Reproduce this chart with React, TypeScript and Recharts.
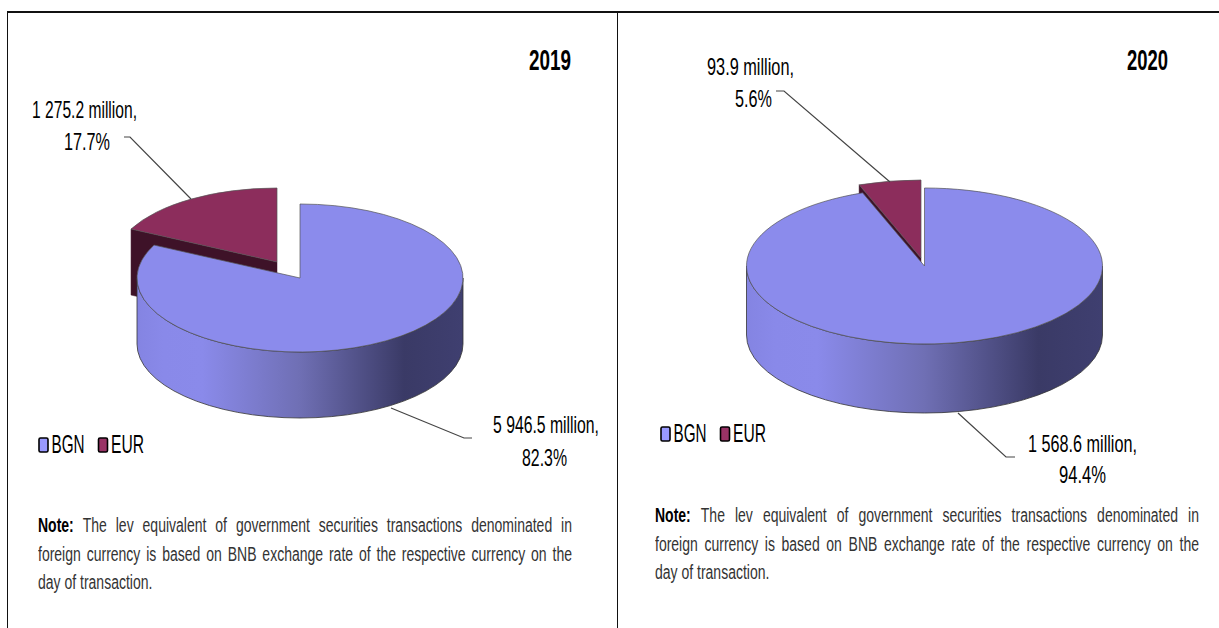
import React from "react";
import { PieChart, Pie, Legend } from "recharts";

const categories = ["EUR", "BGN"];
const legendOrder = ["BGN", "EUR"];
const values2019 = [1275.2, 5946.5];
const values2020 = [93.9, 1568.6];
const valueTexts2019 = ["1 275.2", "5 946.5"];
const valueTexts2020 = ["93.9", "1 568.6"];
const noteLines = [
  "The lev equivalent of government securities transactions denominated in",
  "foreign currency is based on BNB exchange rate of the respective currency on the",
  "day of transaction.",
];

const WIDTH = 1219;
const HEIGHT = 628;
const FONT = "'Liberation Sans', Arial, sans-serif";

const COLORS: Record<string, { top: string; side: string; swatch: string }> = {
  BGN: { top: "#8b8bec", side: "#3a3a66", swatch: "#9999ff" },
  EUR: { top: "#8c2d5c", side: "#3e1228", swatch: "#993366" },
};

const panels = [
  {
    id: "y2019",
    title: { text: "2019", x: 529, y: 70, w: 42 },
    values: values2019,
    valueTexts: valueTexts2019,
    geom: { cx: 300, cy: 278, rx: 163, ry: 74, depth: 66, dx: -23, dy: -16 },
    legend: { x: 38, y: 423 },
    labels: {
      EUR: {
        line: "124,137 130,137 191,199",
        first: { x: 32, y: 118, w: 105 },
        second: { x: 64, y: 150, w: 46 },
      },
      BGN: {
        line: "391,408 464,438 472,438",
        first: { x: 493, y: 433, w: 106 },
        second: { x: 522, y: 466, w: 45 },
      },
    } as Record<string, any>,
    note: { x: 38, y: 511, w: 534 },
  },
  {
    id: "y2020",
    title: { text: "2020", x: 1127, y: 70, w: 41 },
    values: values2020,
    valueTexts: valueTexts2020,
    geom: { cx: 924.5, cy: 266, rx: 178, ry: 78, depth: 69, dx: -3.5, dy: -8 },
    legend: { x: 660, y: 412 },
    labels: {
      EUR: {
        line: "776,91 784,91 890,182",
        first: { x: 707, y: 75, w: 87 },
        second: { x: 735, y: 107, w: 37 },
      },
      BGN: {
        line: "958,413 1006,457 1015,457",
        first: { x: 1028, y: 452, w: 109 },
        second: { x: 1059, y: 483, w: 47 },
      },
    } as Record<string, any>,
    note: { x: 655, y: 501, w: 544 },
  },
];

const rad = (deg: number) => (deg * Math.PI) / 180;

// pie angles come from recharts, only the projection onto an ellipse is done here
const makeSliceShape = (id: string, g: any) => (props: any) => {
  const { startAngle, endAngle, payload } = props;
  const name = payload.name;
  const off = name === "EUR" ? { x: g.dx, y: g.dy } : { x: 0, y: 0 };
  const cx = g.cx + off.x;
  const cy = g.cy + off.y;
  const at = (a: number) => [
    cx + g.rx * Math.cos(rad(a)),
    cy - g.ry * Math.sin(rad(a)),
  ];
  const [sx, sy] = at(startAngle);
  const [ex, ey] = at(endAngle);
  const large = endAngle - startAngle > 180 ? 1 : 0;
  const topPath = `M${cx},${cy} L${sx},${sy} A${g.rx},${g.ry} 0 ${large} 0 ${ex},${ey} Z`;

  const rimFrom = Math.max(startAngle, 180);
  const rimTo = Math.min(endAngle, 360);
  let rimPath = "";
  if (rimTo > rimFrom) {
    const [ax, ay] = at(rimFrom);
    const [bx, by] = at(rimTo);
    rimPath = `M${ax},${ay} A${g.rx},${g.ry} 0 0 0 ${bx},${by} L${bx},${by + g.depth} A${g.rx},${g.ry} 0 0 1 ${ax},${ay + g.depth} Z`;
  }
  // cut face is only seen when it turns towards the viewer
  const endFaceSeen = Math.sin(rad(endAngle + 90)) < -0.01;
  const facePath = `M${cx},${cy} L${ex},${ey} L${ex},${ey + g.depth} L${cx},${cy + g.depth} Z`;

  return (
    <g>
      {endFaceSeen && <path d={facePath} fill={COLORS[name].side} stroke={COLORS[name].side} strokeWidth={0.5} />}
      {rimPath && <path d={rimPath} fill={`url(#rim-${id})`} stroke="#333" strokeWidth={0.8} />}
      <path d={topPath} fill={COLORS[name].top} stroke="#555" strokeWidth={0.7} />
    </g>
  );
};

const makeLabel = (panel: (typeof panels)[number]) => (props: any) => {
  const name = props.payload?.name ?? props.name;
  const cfg = panel.labels[name];
  const i = categories.indexOf(name);
  const textProps = {
    fontFamily: FONT,
    fontSize: 24.5,
    fill: "#000",
    lengthAdjust: "spacingAndGlyphs" as const,
  };
  return (
    <g key={name}>
      <polyline points={cfg.line} fill="none" stroke="#444" strokeWidth={1.2} />
      <text {...textProps} x={cfg.first.x} y={cfg.first.y} textLength={cfg.first.w}>
        {`${panel.valueTexts[i]} million,`}
      </text>
      <text {...textProps} x={cfg.second.x} y={cfg.second.y} textLength={cfg.second.w}>
        {`${(props.percent * 100).toFixed(1)}%`}
      </text>
    </g>
  );
};

const LegendBlock = ({ payload }: any) => {
  const items = legendOrder.map((name) => (payload || []).find((p: any) => p.value === name)).filter(Boolean);
  return (
    <svg width={150} height={44} style={{ display: "block" }}>
      {items.map((item: any, i: number) => (
        <g key={item.value} transform={`translate(${i * 59.5},10)`}>
          <rect x={1} y={5} width={9} height={14} rx={1.5} fill={COLORS[item.value].swatch} stroke="#000" strokeWidth={1.6} />
          <text
            x={13.5}
            y={20}
            fontFamily={FONT}
            fontSize={25}
            fill="#000"
            textLength={33}
            lengthAdjust="spacingAndGlyphs"
          >
            {item.value}
          </text>
        </g>
      ))}
    </svg>
  );
};

const Note = ({ x, y, w }: { x: number; y: number; w: number }) => {
  const scale = 0.7;
  return (
    <div
      style={{
        position: "absolute",
        left: x,
        top: y,
        width: w / scale,
        transform: `scaleX(${scale})`,
        transformOrigin: "left top",
        fontFamily: FONT,
        fontSize: 20,
        lineHeight: "28.6px",
        color: "#333",
      }}
    >
      {noteLines.map((line, i) => (
        <div key={i} style={{ whiteSpace: "nowrap", textAlign: "justify", textAlignLast: i < 2 ? "justify" : "left" }}>
          {i === 0 && <b style={{ color: "#000" }}>Note: </b>}
          {line}
        </div>
      ))}
    </div>
  );
};

const Panel = ({ panel }: { panel: (typeof panels)[number] }) => {
  const data = categories.map((name, i) => ({ name, value: panel.values[i] }));
  return (
    <>
      <div style={{ position: "absolute", left: 0, top: 0 }}>
        <PieChart width={WIDTH} height={HEIGHT} margin={{ top: 0, right: 0, bottom: 0, left: 0 }}>
          <defs>
            <linearGradient id={`rim-${panel.id}`} x1="0" y1="0" x2="1" y2="0">
              <stop offset="0" stopColor="#8484e2" />
              <stop offset="0.08" stopColor="#8989e9" />
              <stop offset="0.2" stopColor="#8a8aea" />
              <stop offset="0.5" stopColor="#6f6fb4" />
              <stop offset="0.82" stopColor="#3a3a66" />
              <stop offset="1" stopColor="#3f3f70" />
            </linearGradient>
          </defs>
          <Pie
            data={data}
            dataKey="value"
            nameKey="name"
            cx={panel.geom.cx}
            cy={panel.geom.cy}
            innerRadius={0}
            outerRadius={panel.geom.rx}
            startAngle={90}
            endAngle={450}
            stroke="none"
            isAnimationActive={false}
            shape={makeSliceShape(panel.id, panel.geom)}
            label={makeLabel(panel)}
            labelLine={false}
          />
          <Legend
            content={LegendBlock as any}
            width={150}
            verticalAlign="bottom"
            wrapperStyle={{ left: panel.legend.x, top: panel.legend.y, bottom: "auto", width: 150 }}
          />
          <text
            x={panel.title.x}
            y={panel.title.y}
            fontFamily={FONT}
            fontSize={29}
            fontWeight="bold"
            fill="#000"
            textLength={panel.title.w}
            lengthAdjust="spacingAndGlyphs"
          >
            {panel.title.text}
          </text>
        </PieChart>
      </div>
      <Note {...panel.note} />
    </>
  );
};

export default function App() {
  const rule = { position: "absolute" as const, background: "#111" };
  return (
    <div style={{ position: "absolute", left: 0, top: 0, width: WIDTH, height: HEIGHT, overflow: "hidden", background: "#fff" }}>
      <div style={{ ...rule, left: 7, top: 11, width: WIDTH - 7, height: 1.5 }} />
      <div style={{ ...rule, left: 7, top: 11, width: 1, height: HEIGHT - 11 }} />
      <div style={{ ...rule, left: 617, top: 11, width: 1, height: HEIGHT - 11 }} />
      {panels.map((p) => (
        <Panel key={p.id} panel={p} />
      ))}
    </div>
  );
}
